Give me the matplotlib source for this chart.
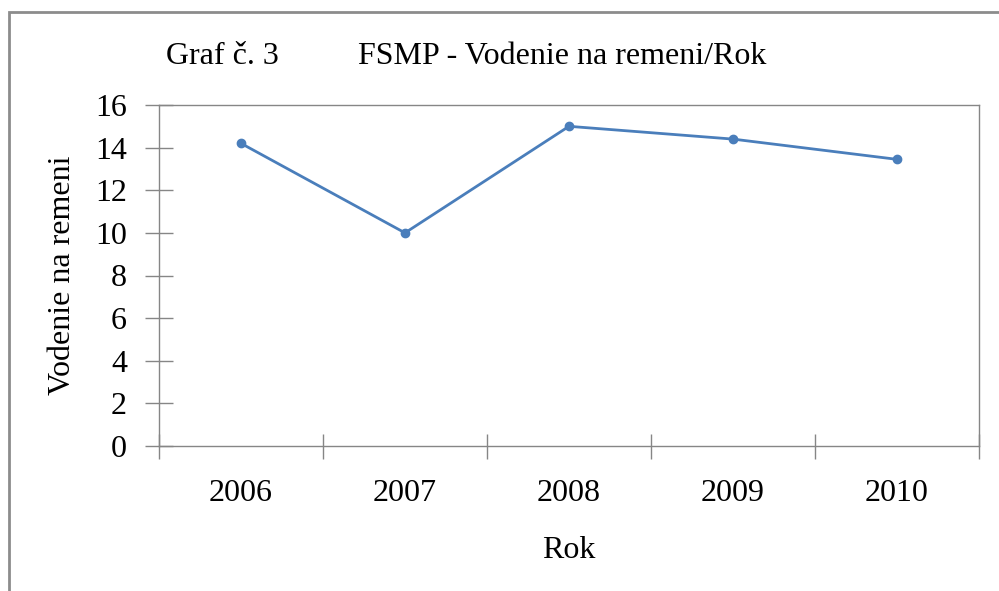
import matplotlib
matplotlib.use("Agg")
import matplotlib.pyplot as plt
import matplotlib.patches as mpatches

years = ["2006", "2007", "2008", "2009", "2010"]
values = [14.2, 10.0, 15.0, 14.4, 13.45]
y_ticks = [0, 2, 4, 6, 8, 10, 12, 14, 16]

plt.rcParams['font.family'] = ['Liberation Serif', 'DejaVu Serif']
FS = 23
GRID = '#868686'
LINE = '#4A7EBB'

fig = plt.figure(figsize=(9.99, 5.91), dpi=100)
ax = fig.add_axes([159 / 999, 1 - 446 / 591, 820 / 999, 341 / 591])

x = list(range(len(years)))
ax.plot(x, values, color=LINE, lw=2.0, marker='o', markersize=6, zorder=3)

ax.set_xlim(-0.5, len(years) - 0.5)
ax.set_ylim(0, 16)
ax.set_yticks(y_ticks)
ax.set_yticklabels([str(v) for v in y_ticks], fontsize=FS)
ax.set_xticks(x)
ax.set_xticklabels(years, fontsize=FS)
ax.set_xticks([i - 0.5 for i in range(len(years) + 1)], minor=True)

ax.tick_params(axis='y', direction='inout', length=20, width=1, color=GRID, pad=13)
ax.tick_params(axis='x', which='major', length=0, pad=24)
ax.tick_params(axis='x', which='minor', direction='inout', length=18, width=1, color=GRID)

for s in ax.spines.values():
    s.set_color(GRID)
    s.set_linewidth(1)

ax.set_ylabel('Vodenie na remeni', fontsize=FS, labelpad=13)
ax.set_xlabel('Rok', fontsize=FS, labelpad=20)

fig.text(166 / 999, 1 - 57 / 591, 'Graf č. 3', fontsize=FS, ha='left', va='center')
fig.text(358 / 999, 1 - 57 / 591, 'FSMP - Vodenie na remeni/Rok', fontsize=FS,
         ha='left', va='center')

# outer chart border, cut off at right and bottom like the source
border = mpatches.Rectangle((9 / 999, -0.05), 1.1, 1 - 12 / 591 + 0.05,
                            transform=fig.transFigure, fill=False,
                            edgecolor='#8c8c8c', linewidth=2, clip_on=False)
fig.patches.append(border)

fig.savefig('out.png', dpi=100, facecolor='white')
